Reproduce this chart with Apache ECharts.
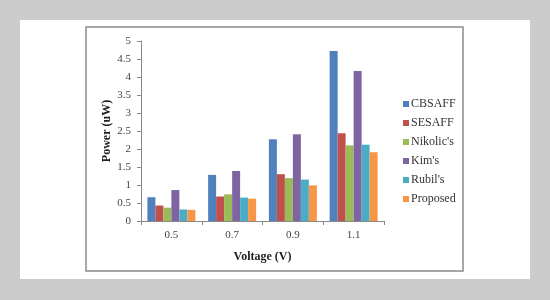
<!DOCTYPE html>
<html>
<head>
<meta charset="utf-8">
<script src="https://cdn.jsdelivr.net/npm/echarts@6/dist/echarts.min.js"></script>
<style>
  html, body { margin: 0; padding: 0; background: #cccccc; }
  #chart { width: 550px; height: 300px; }
</style>
</head>
<body>
<div id="chart"></div>
<script>
const voltages = ["0.5", "0.7", "0.9", "1.1"];
const cbsaff   = [0.66, 1.28, 2.27, 4.72];
const sesaff   = [0.43, 0.68, 1.30, 2.44];
const nikolic  = [0.37, 0.74, 1.19, 2.10];
const kim      = [0.86, 1.39, 2.41, 4.17];
const rubil    = [0.32, 0.65, 1.15, 2.12];
const proposed = [0.31, 0.62, 0.99, 1.91];

const seriesNames  = ["CBSAFF", "SESAFF", "Nikolic's", "Kim's", "Rubil's", "Proposed"];
const seriesData   = [cbsaff, sesaff, nikolic, kim, rubil, proposed];
const seriesColors = ["#4F81BD", "#C0504D", "#9BBB59", "#8064A2", "#4BACC6", "#F79646"];

const font = "Liberation Serif";
let chart  = echarts.init(document.getElementById("chart"));

function getSeries() {
  return seriesNames.map((name, i) => {
    return {
      name,
      type: "bar",
      data: seriesData[i],
      itemStyle: { color: seriesColors[i] },
      barGap: 0,
      barCategoryGap: "21%",
    };
  });
}

chart.setOption({
  animation: false,
  backgroundColor: "#cccccc",
  textStyle: { fontFamily: font },
  graphic: [
    // white card and the chart frame
    { type: "rect", z: -10, shape: { x: 20, y: 20, width: 510, height: 259 }, style: { fill: "#ffffff" } },
    { type: "rect", z: -9, shape: { x: 86, y: 27, width: 377, height: 244 }, style: { fill: "#ffffff", stroke: "#8a8a8a", lineWidth: 1.5 } },
  ],
  color: seriesColors,
  legend: {
    orient: "vertical",
    left: 398,
    top: 93,
    itemWidth: 6,
    itemHeight: 6,
    itemGap: 7,
    icon: "rect",
    textStyle: { fontFamily: font, fontSize: 12, color: "#333", padding: [0, 0, 0, -3] },
    data: seriesNames,
  },
  grid: { left: 141, top: 41, right: 166, bottom: 79 },
  xAxis: {
    type: "category",
    data: voltages,
    name: "Voltage (V)",
    nameLocation: "middle",
    nameGap: 30,
    nameTextStyle: { fontFamily: font, fontSize: 12, fontWeight: "bold", color: "#222" },
    axisLine: { lineStyle: { color: "#888", width: 1 } },
    axisTick: { show: true, inside: false, length: 4, lineStyle: { color: "#888" } },
    axisLabel: { fontFamily: font, fontSize: 11, color: "#444", margin: 9 },
  },
  yAxis: {
    type: "value",
    min: 0,
    max: 5,
    interval: 0.5,
    name: "Power (uW)",
    nameLocation: "middle",
    nameRotate: 90,
    nameGap: 28,
    nameTextStyle: { fontFamily: font, fontSize: 12, fontWeight: "bold", color: "#222" },
    axisLine: { show: true, lineStyle: { color: "#888", width: 1 } },
    axisTick: { show: true, length: 4, lineStyle: { color: "#888" } },
    axisLabel: { fontFamily: font, fontSize: 11, color: "#444", margin: 10 },
    splitLine: { show: false },
  },
  series: getSeries(),
});
</script>
</body>
</html>
